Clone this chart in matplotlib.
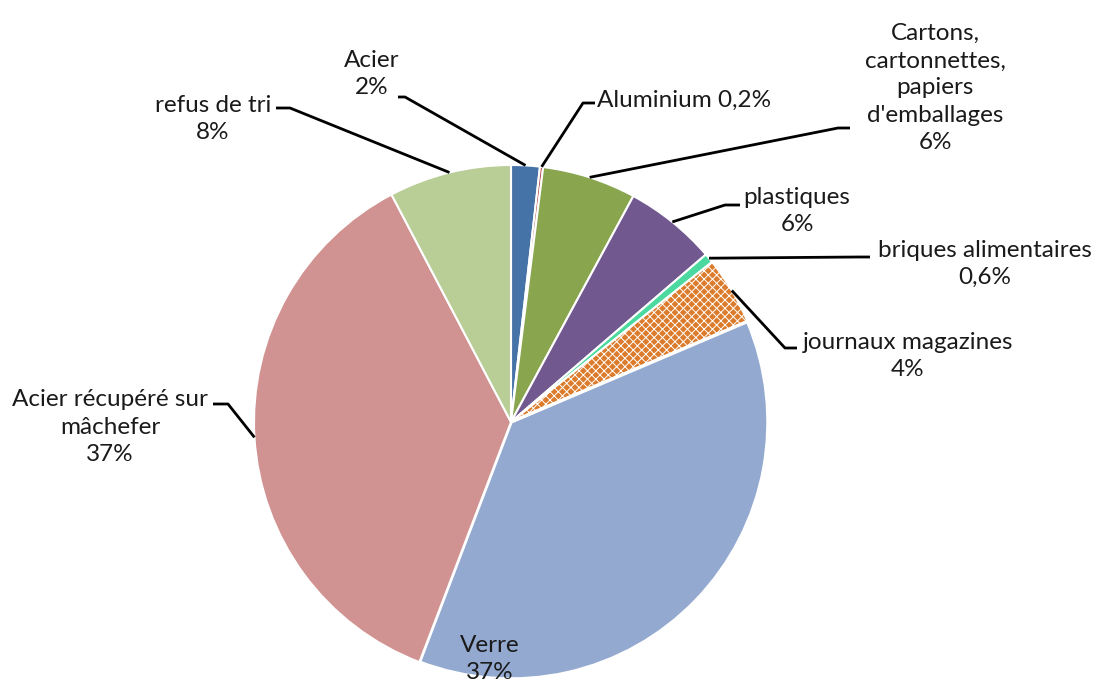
import numpy as np
import matplotlib.pyplot as plt

plt.rcParams['font.family'] = ['Lato', 'DejaVu Sans']
plt.rcParams['hatch.linewidth'] = 0.7

# Données (pourcentages)
categories = ['Acier', 'Aluminium', 'Cartons, cartonnettes, papiers d\'emballages',
              'plastiques', 'briques alimentaires', 'journaux magazines',
              'Verre', 'Acier récupéré sur mâchefer', 'refus de tri']
valeurs = [1.8, 0.2, 5.9, 5.8, 0.6, 4.3, 37.2, 36.5, 7.7]
etiquettes = ['Acier\n2%', 'Aluminium 0,2%', 'Cartons,\ncartonnettes,\npapiers\nd\'emballages\n6%',
              'plastiques\n6%', 'briques alimentaires\n0,6%', 'journaux magazines\n4%',
              'Verre\n37%', 'Acier récupéré sur\nmâchefer\n37%', 'refus de tri\n8%']
couleurs = ['#4572A7', '#AA4643', '#89A54E', '#71588F', '#4BD9A0', '#DB7B2B',
            '#93A9CF', '#D19392', '#B9CD96']

W, H = 1098, 684
cx, cy, r = 511, H - 422, 257

fig = plt.figure(figsize=(W / 100, H / 100), dpi=100)
ax = fig.add_axes([0, 0, 1, 1])

explode = [0, 0, 0, 0, 0, 0, 0.015, 0, 0]
wedges, _ = ax.pie(valeurs, colors=couleurs, startangle=90, counterclock=False,
                   center=(cx, cy), radius=r, explode=explode,
                   wedgeprops=dict(edgecolor='white', linewidth=1.5))
wedges[5].set_hatch('xxxx')
wedges[6].set_linewidth(2.5)

ax.set_xlim(0, W)
ax.set_ylim(0, H)
ax.set_aspect('equal')
ax.axis('off')

# position des étiquettes (pixels depuis le haut) et des lignes de rappel
positions = [(372, 74, 'center'), (597, 100, 'left'), (935, 88, 'center'),
             (797, 211, 'center'), (985, 264, 'center'), (908, 356, 'center'),
             (490, 659, 'center'), (110, 427, 'center'), (213, 119, 'center')]
rappels = [((398, 97), (405, 97)), ((595, 103), (583, 103)), ((850, 128), (838, 128)),
           ((740, 205), (725, 205)), ((870, 257), (858, 257)), ((797, 348), (785, 348)),
           None, ((213, 404), (228, 404)), ((276, 108), (290, 108))]

cumul = np.cumsum(valeurs) - np.array(valeurs) / 2
total = sum(valeurs)
for i, (lab, (x, y, ha), rp) in enumerate(zip(etiquettes, positions, rappels)):
    ax.text(x, H - y, lab, ha=ha, va='center', fontsize=17.5, linespacing=1.36,
            color='#1a1a1a')
    if rp is not None:
        ang = np.deg2rad(360 * cumul[i] / total)
        ex, ey = cx + r * np.sin(ang), cy + r * np.cos(ang)
        (x1, y1), (x2, y2) = rp
        ax.plot([x1, x2, ex], [H - y1, H - y2, ey], color='black', lw=2,
                solid_capstyle='butt')

fig.savefig('out.png', dpi=100)
